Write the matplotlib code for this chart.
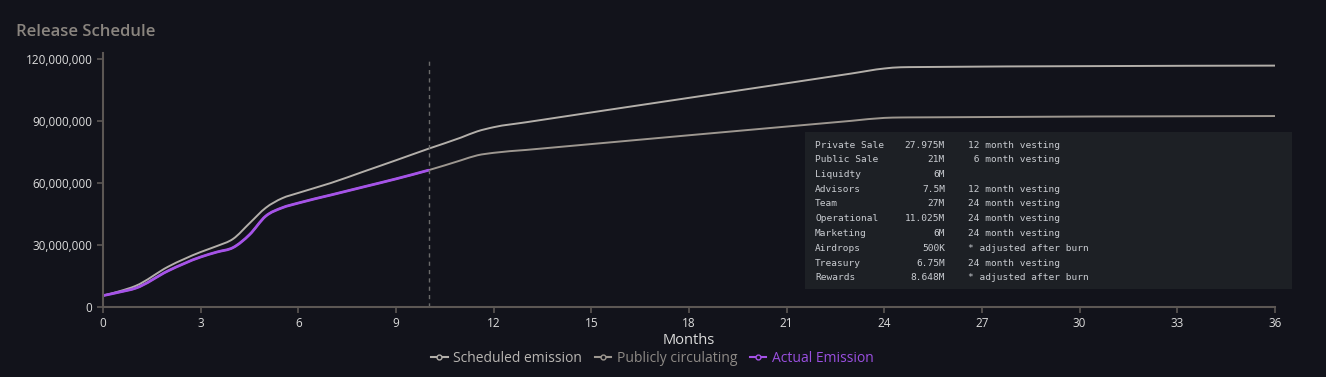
import numpy as np
import matplotlib
matplotlib.use("Agg")
import matplotlib.pyplot as plt
from matplotlib.patches import Rectangle, PathPatch
from matplotlib.path import Path
from matplotlib.lines import Line2D
from matplotlib.ticker import FuncFormatter

# data (values in millions of tokens)
sched_months = [0, 0.5, 1, 2, 3, 3.5, 4, 4.5, 5, 5.5, 6, 7, 8, 9, 10, 11, 11.5, 12, 13, 18, 23, 24, 24.5, 25, 36]
sched_vals = [5.5, 7.6, 10.2, 19.5, 26.6, 29.5, 33, 40.5, 48, 52.6, 55.2, 60, 65.5, 71, 76.6, 82, 85, 87,
              89.4, 101.2, 113.0, 115.4, 116, 116.1, 116.8]

actual_months = [0, 0.5, 1, 2, 3, 3.5, 4, 4.5, 5, 5.5, 6, 7, 8, 9, 10]
actual_vals = [5.5, 7.2, 9.1, 17.5, 24.2, 26.6, 28.8, 35, 44, 48, 50.3, 54.2, 58.1, 62, 66.2]

circ_months = actual_months + [11, 11.5, 12, 13, 18, 23, 24, 24.5, 25, 36]
circ_vals = actual_vals + [71, 73.4, 74.6, 76.0, 83.1, 90.1, 91.5, 91.7, 91.75, 92.4]

table_names = ["Private Sale", "Public Sale", "Liquidty", "Advisors", "Team",
               "Operational", "Marketing", "Airdrops", "Treasury", "Rewards"]
table_amounts = ["27.975M", "21M", "6M", "7.5M", "27M", "11.025M", "6M", "500K", "6.75M", "8.648M"]
table_notes = ["12 month vesting", " 6 month vesting", "", "12 month vesting", "24 month vesting",
               "24 month vesting", "24 month vesting", "* adjusted after burn", "24 month vesting",
               "* adjusted after burn"]

bg = "#12131b"
upper_col = "#b3afaa"
lower_col = "#9d9790"
purple = "#a552e8"
axis_col = "#5c5754"
tick_col = "#dcdcdc"


def monotone_path(xs, ys):
    # smooth monotone-x curve (like d3.curveMonotoneX) as cubic bezier segments
    x = np.asarray(xs, float)
    y = np.asarray(ys, float)
    h = np.diff(x)
    s = np.diff(y) / h
    t = np.zeros(len(x))
    for i in range(1, len(x) - 1):
        p = (s[i - 1] * h[i] + s[i] * h[i - 1]) / (h[i - 1] + h[i])
        t[i] = (np.sign(s[i - 1]) + np.sign(s[i])) * min(abs(s[i - 1]), abs(s[i]), 0.5 * abs(p))
    t[0] = (3 * s[0] - t[1]) / 2
    t[-1] = (3 * s[-1] - t[-2]) / 2
    verts = [(x[0], y[0])]
    codes = [Path.MOVETO]
    for i in range(len(h)):
        d = h[i] / 3
        verts += [(x[i] + d, y[i] + d * t[i]), (x[i + 1] - d, y[i + 1] - d * t[i + 1]), (x[i + 1], y[i + 1])]
        codes += [Path.CURVE4] * 3
    return Path(verts, codes)


plt.rcParams['font.family'] = ['Open Sans', 'DejaVu Sans']

fig = plt.figure(figsize=(13.26, 3.77), dpi=100, facecolor=bg)
ax = fig.add_axes([103 / 1326, 1 - 307 / 377, (1275 - 103) / 1326, (307 - 53) / 377])
ax.set_facecolor(bg)

series = [
    (sched_months, sched_vals, upper_col, 1.4, "Scheduled emission"),
    (circ_months, circ_vals, lower_col, 1.4, "Publicly circulating"),
    (actual_months, actual_vals, purple, 2.0, "Actual Emission"),
]
for xs, vs, col, lw, lab in series:
    ax.add_patch(PathPatch(monotone_path(xs, [v * 1e6 for v in vs]), facecolor="none",
                           edgecolor=col, lw=lw, capstyle="round", joinstyle="round"))

ax.axvline(10, color="#6a6a6a", lw=1.0, ls=(0, (3, 3)), ymax=0.985)

ax.set_xlim(0, 36)
ax.set_ylim(0, 122.9e6)
ax.set_xticks(range(0, 37, 3))
ax.set_yticks([0, 30e6, 60e6, 90e6, 120e6])
ax.yaxis.set_major_formatter(FuncFormatter(lambda v, p: f"{int(v):,}"))

for s in ["top", "right"]:
    ax.spines[s].set_visible(False)
for s in ["left", "bottom"]:
    ax.spines[s].set_color(axis_col)
    ax.spines[s].set_linewidth(1.5)
ax.tick_params(colors=axis_col, labelcolor=tick_col, labelsize=8.5, length=4, width=1.2)

ax.set_xlabel("Months", color=tick_col, fontsize=10.5, labelpad=2)

fig.text(16 / 1326, 1 - 32 / 377, "Release Schedule", color="#8a857f", fontsize=12,
         fontweight="semibold", va="center", ha="left")

# allocation table box
fig.patches.append(Rectangle((805 / 1326, 1 - 289 / 377), (1292 - 805) / 1326, (289 - 132) / 377,
                             transform=fig.transFigure, facecolor="#1d2025", edgecolor="none", zorder=3))
for i, (n, a, note) in enumerate(zip(table_names, table_amounts, table_notes)):
    y = 1 - (145 + i * 14.75) / 377
    kw = dict(color="#c9ccd1", fontsize=6.8, family="DejaVu Sans Mono", va="center", zorder=4)
    fig.text(815 / 1326, y, n, ha="left", **kw)
    fig.text(945 / 1326, y, a, ha="right", **kw)
    fig.text(967.5 / 1326, y, note, ha="left", **kw)

handles = [Line2D([], [], color=col, lw=1.5, marker="o", markersize=3.5, markerfacecolor=bg)
           for _, _, col, _, _ in series]
leg = fig.legend(handles, [lab for *_, lab in series], loc="center",
                 bbox_to_anchor=(0.492, 1 - 358 / 377), ncol=3, frameon=False,
                 fontsize=10, handlelength=1.2, handletextpad=0.4, columnspacing=0.9)
for text, col in zip(leg.get_texts(), ["#b8b5b2", "#8e8a86", "#9a4fe0"]):
    text.set_color(col)

fig.savefig("out.png", dpi=100, facecolor=bg)
